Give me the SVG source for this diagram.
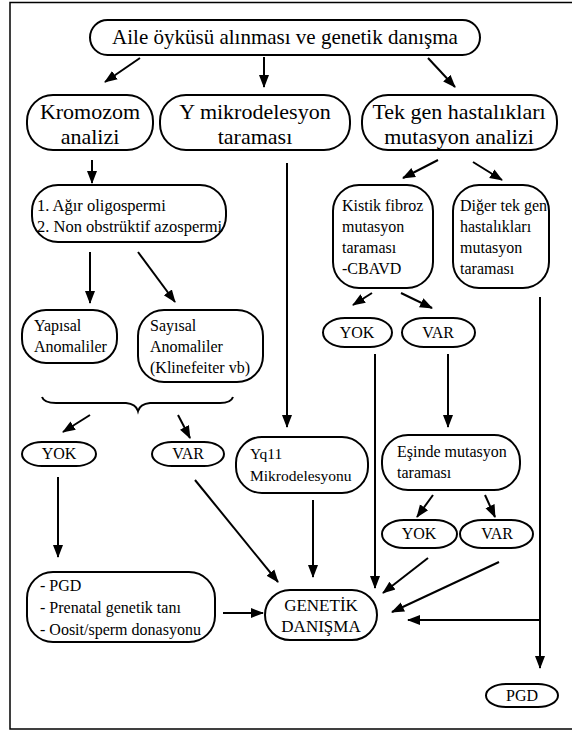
<svg xmlns="http://www.w3.org/2000/svg" width="572" height="731" viewBox="0 0 572 731">
<style>
.box{fill:#fff;stroke:#000;stroke-width:2}
text{font-family:'Liberation Serif','Times New Roman','DejaVu Serif',serif;fill:#000}
.xl{font-size:21px}
.l{font-size:22px}
.m{font-size:17px}
.s{font-size:16px}
.c{text-anchor:middle}
.ln{stroke:#000;stroke-width:2;fill:none}
.a{stroke:#000;stroke-width:2;fill:none;marker-end:url(#ah)}
</style>
<defs>
<marker id="ah" markerUnits="userSpaceOnUse" markerWidth="13" markerHeight="13" viewBox="0 0 13 13" refX="12" refY="6.5" orient="auto">
<path d="M0,1.5 L13,6.5 L0,11.5 Z" fill="#000"/>
</marker>
</defs>
<rect x="10" y="2.5" width="575" height="726.5" fill="none" stroke="#000" stroke-width="1.5"/>

<g font-family="Liberation Serif, serif">
<g id="n-top"><rect class="box" x="90" y="20" width="390" height="35" rx="17.5"/><text class="xl c" x="285" y="44">Aile öyküsü alınması ve genetik danışma</text></g>
<g id="n-kromozom"><rect class="box" x="27" y="95" width="126" height="55" rx="26"/><text class="l c" x="90" y="119">Kromozom</text><text class="l c" x="90" y="144">analizi</text></g>
<g id="n-ymikro"><rect class="box" x="160" y="95" width="190" height="55" rx="26"/><text class="l c" x="255" y="119">Y mikrodelesyon</text><text class="l c" x="255" y="144">taraması</text></g>
<g id="n-tekgen"><rect class="box" x="362" y="95" width="195" height="55" rx="26"/><text class="l c" x="459" y="119">Tek gen hastalıkları</text><text class="l c" x="459" y="144">mutasyon analizi</text></g>

<g id="n-oligo"><rect class="box" x="32" y="185" width="194" height="57" rx="26"/><text class="s" x="37" y="211" style="font-size:16.5px">1. Ağır oligospermi</text><text class="s" x="37" y="232" style="font-size:16.5px">2. Non obstrüktif azospermi</text></g>
<g id="n-yapisal"><rect class="box" x="22" y="310" width="95" height="53" rx="24"/><text class="s" x="34" y="331">Yapısal</text><text class="s" x="34" y="352">Anomaliler</text></g>
<g id="n-sayisal"><rect class="box" x="138" y="310" width="125" height="72" rx="26"/><text class="s" x="150" y="331">Sayısal</text><text class="s" x="150" y="352">Anomaliler</text><text class="s" x="150" y="373">(Klinefeiter vb)</text></g>

<g id="n-brace"><path class="ln" d="M42,397 Q44,403 56,403 L126,403 Q136,404 138,411 Q140,404 150,403 L220,403 Q231,403 233,397"/></g>

<g id="n-yok1"><rect class="box" x="22" y="442" width="74" height="24" rx="20" ry="12"/><text class="s c" x="59" y="459">YOK</text></g>
<g id="n-var1"><rect class="box" x="152" y="442" width="72" height="24" rx="20" ry="12"/><text class="s c" x="188" y="459">VAR</text></g>

<g id="n-pgdlist"><rect class="box" x="27" y="572" width="188" height="70" rx="26"/><text class="s" x="40" y="591">- PGD</text><text class="s" x="40" y="613">- Prenatal genetik tanı</text><text class="s" x="40" y="635">- Oosit/sperm donasyonu</text></g>

<g id="n-yq11"><rect class="box" x="236" y="437" width="132" height="56" rx="26"/><text class="s" x="250" y="459" style="font-size:15.5px">Yq11</text><text class="s" x="250" y="481" style="font-size:15.5px">Mikrodelesyonu</text></g>

<g id="n-genetik"><rect class="box" x="265" y="590" width="112" height="50" rx="25"/><text class="m c" x="321" y="611">GENETİK</text><text class="m c" x="321" y="632">DANIŞMA</text></g>

<g id="n-kistik"><rect class="box" x="333" y="185" width="100" height="103" rx="26"/><text class="s" x="342" y="211">Kistik fibroz</text><text class="s" x="342" y="232">mutasyon</text><text class="s" x="342" y="253">taraması</text><text class="s" x="342" y="274">-CBAVD</text></g>
<g id="n-diger"><rect class="box" x="453" y="185" width="96" height="103" rx="26"/><text class="s" x="460" y="211">Diğer tek gen</text><text class="s" x="460" y="232">hastalıkları</text><text class="s" x="460" y="253">mutasyon</text><text class="s" x="460" y="274">taraması</text></g>

<g id="n-yok2"><rect class="box" x="323" y="318" width="69" height="29" rx="22" ry="14.5"/><text class="s c" x="357" y="338">YOK</text></g>
<g id="n-var2"><rect class="box" x="402" y="318" width="73" height="29" rx="22" ry="14.5"/><text class="s c" x="438" y="338">VAR</text></g>

<g id="n-esinde"><rect class="box" x="382" y="435" width="138" height="55" rx="26"/><text class="s" x="397" y="457">Eşinde mutasyon</text><text class="s" x="397" y="478">taraması</text></g>

<g id="n-yok3"><rect class="box" x="382" y="520" width="75" height="28" rx="22" ry="14"/><text class="s c" x="419" y="539">YOK</text></g>
<g id="n-var3"><rect class="box" x="460" y="520" width="73" height="28" rx="22" ry="14"/><text class="s c" x="497" y="539">VAR</text></g>

<g id="n-pgd"><rect class="box" x="486" y="684" width="72" height="23" rx="20" ry="11.5"/><text class="s c" x="522" y="701">PGD</text></g>
</g>

<g id="connectors">
<line class="a" x1="140" y1="58" x2="105" y2="82"/>
<line class="a" x1="264" y1="57" x2="264" y2="87"/>
<line class="a" x1="428" y1="58" x2="455" y2="87"/>
<line class="a" x1="92" y1="160" x2="92" y2="183"/>
<line class="a" x1="287" y1="163" x2="287" y2="427"/>
<line class="a" x1="438" y1="160" x2="403" y2="178"/>
<line class="a" x1="473" y1="162" x2="502" y2="180"/>
<line class="a" x1="90" y1="252" x2="90" y2="303"/>
<line class="a" x1="138" y1="252" x2="175" y2="302"/>
<line class="a" x1="90" y1="415" x2="63" y2="432"/>
<line class="a" x1="178" y1="415" x2="190" y2="438"/>
<line class="a" x1="58" y1="477" x2="58" y2="557"/>
<line class="a" x1="223" y1="613" x2="263" y2="613"/>
<line class="a" x1="195" y1="480" x2="278" y2="582"/>
<line class="a" x1="313" y1="500" x2="313" y2="577"/>
<line class="a" x1="372" y1="293" x2="353" y2="305"/>
<line class="a" x1="401" y1="293" x2="432" y2="308"/>
<line class="a" x1="375" y1="354" x2="375" y2="588"/>
<line class="a" x1="448" y1="354" x2="448" y2="427"/>
<line class="a" x1="433" y1="495" x2="417" y2="517"/>
<line class="a" x1="485" y1="495" x2="495" y2="517"/>
<line class="a" x1="428" y1="558" x2="383" y2="593"/>
<line class="a" x1="499" y1="562" x2="392" y2="612"/>
<line class="a" x1="540" y1="297" x2="540" y2="668"/>
<line class="a" x1="540" y1="620" x2="408" y2="620"/>
</g>
</svg>
